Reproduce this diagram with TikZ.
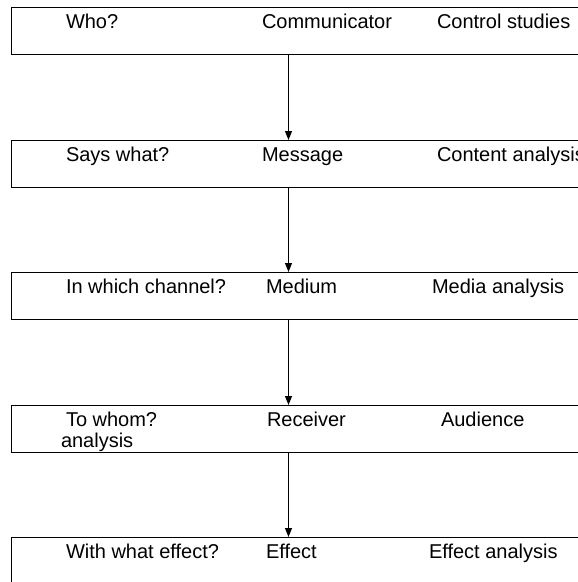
\documentclass[tikz,border=0pt]{standalone}
\usepackage{fontspec}
\setmainfont{Liberation Sans}
\usetikzlibrary{arrows.meta}
\begin{document}
\begin{tikzpicture}[x=1pt,y=-1pt,
  stagebox/.style={draw=black,line width=1pt,rectangle,anchor=north west,
    minimum width=590pt,minimum height=47pt,inner sep=0pt,outer sep=0pt},
  lbl/.style={anchor=base west,inner sep=0pt,outer sep=0pt,
    font=\fontsize{20}{24}\selectfont},
  flow/.style={line width=1pt,-{Triangle[width=7pt,length=9pt]}}]
\clip (0,0) rectangle (578,582);
\fill[white] (0,0) rectangle (578,582);
% five stages of the model
\node[stagebox] (b1) at (11.5,7) {};
\node[stagebox] (b2) at (11.5,140) {};
\node[stagebox] (b3) at (11.5,272) {};
\node[stagebox] (b4) at (11.5,405) {};
\node[stagebox] (b5) at (11.5,537) {};
% question, element and field of study for each stage
\node[lbl] (q1) at (66,28) {Who?};
\node[lbl] (e1) at (262,28) {Communicator};
\node[lbl] (f1) at (437,28) {Control studies};
\node[lbl] (q2) at (66,161) {Says what?};
\node[lbl] (e2) at (262,161) {Message};
\node[lbl] (f2) at (437,161) {Content analysis};
\node[lbl] (q3) at (66,293) {In which channel?};
\node[lbl] (e3) at (266,293) {Medium};
\node[lbl] (f3) at (432,293) {Media analysis};
\node[lbl] (q4) at (66,426) {To whom?};
\node[lbl] (e4) at (267,426) {Receiver};
\node[lbl] (f4) at (441,426) {Audience};
\node[lbl] (g4) at (61,447) {analysis};
\node[lbl] (q5) at (66,558) {With what effect?};
\node[lbl] (e5) at (266,558) {Effect};
\node[lbl] (f5) at (429,558) {Effect analysis};
% connectors between stages
\coordinate (ax) at (288.5,0);
\draw[flow] (b1.south -| ax) -- (b2.north -| ax);
\draw[flow] (b2.south -| ax) -- (b3.north -| ax);
\draw[flow] (b3.south -| ax) -- (b4.north -| ax);
\draw[flow] (b4.south -| ax) -- (b5.north -| ax);
\end{tikzpicture}
\end{document}
